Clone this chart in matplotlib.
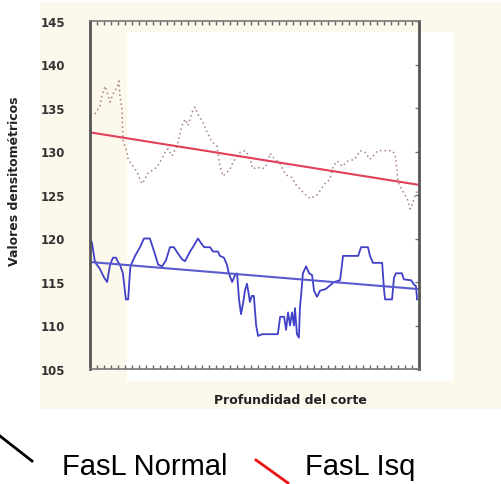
import numpy as np
import matplotlib
matplotlib.use('Agg')
import matplotlib.pyplot as plt
from matplotlib.patches import Rectangle
from matplotlib.lines import Line2D

# FasL Normal (blue solid)
normal_x = [0, 0.6, 1.5, 3.0, 4.3, 5.2, 6.1, 7.0, 7.9, 8.5, 9.1, 10.0, 10.9, 11.6, 12.2, 12.5,
            13.7, 15.2, 16.4, 18.2, 19.5, 20.7, 21.9, 23.1, 24.3, 25.5, 26.7, 28.0, 28.9, 30.4,
            31.6, 32.8, 33.7, 34.7, 36.5, 37.4, 38.9, 39.5, 40.7, 41.6, 42.2, 43.2, 44.1, 44.7,
            45.3, 45.9, 46.5, 47.1, 47.7, 48.3, 48.6, 49.2, 49.8, 50.5, 51.1, 52.3, 54.7, 57.1,
            57.8, 59.0, 59.6, 60.2, 60.8, 61.4, 62.0, 62.3, 62.9, 63.5, 63.8, 64.4, 64.7, 65.7,
            66.6, 67.5, 68.1, 69.0, 69.9, 71.7, 72.9, 74.2, 76.0, 76.6, 76.9, 79.0, 81.5, 82.4,
            84.5, 85.1, 86.0, 88.8, 89.4, 89.7, 91.8, 92.4, 93.0, 94.8, 95.4, 97.6, 98.5, 99.1, 99.4]
normal_y = [120, 119.5, 117.3, 116.5, 115.5, 115, 117, 117.8, 117.8, 117.3, 117, 116, 113, 113, 116.5, 117,
            118, 119, 120, 120, 118.5, 117, 116.8, 117.5, 119, 119, 118.3, 117.6, 117.4, 118.5,
            119.2, 120, 119.5, 119, 119, 118.5, 118.5, 118, 117.8, 117, 116, 115, 115.8, 116,
            113, 111.3, 112.5, 114, 114.8, 113.5, 112.7, 113.4, 113.4, 110, 108.8, 109, 109, 109,
            111, 111, 109.5, 111.5, 110, 111.5, 110, 112, 109, 108.6, 112, 114.5, 116, 116.8,
            116, 115.8, 114, 113.3, 114, 114.2, 114.6, 115, 115.2, 117, 118, 118, 118, 119,
            119, 118, 117.2, 117.2, 114, 113, 113, 115.5, 116, 116, 115.3, 115.2, 114.7, 114.5, 113]

# FasL Isq (red dotted)
isq_x = [1.5, 3.0, 3.6, 4.6, 5.2, 6.1, 7.0, 8.2, 8.8, 9.1, 9.7, 9.9, 10.0, 10.6, 11.2, 11.6,
         13.1, 14.3, 15.2, 15.8, 16.7, 17.3, 18.8, 20.4, 21.3, 22.8, 23.7, 24.9, 26.4, 28.0,
         28.9, 29.8, 31.0, 31.9, 32.8, 34.3, 35.6, 37.1, 38.6, 39.5, 40.4, 41.6, 42.6, 43.5,
         45.6, 47.1, 48.6, 49.5, 50.8, 52.3, 53.5, 54.1, 54.7, 56.2, 57.8, 58.8, 59.6, 61.4,
         62.3, 63.8, 65.3, 66.9, 69.0, 70.5, 71.4, 72.9, 73.9, 75.2, 76.6, 78.4, 80.5, 82.1,
         83.6, 85.1, 86.6, 87.5, 89.7, 91.8, 92.7, 93.3, 93.6, 95.1, 96.4, 97.3, 98.2, 98.8, 99.4]
isq_y = [134.3, 135.2, 136.4, 137.5, 136.8, 135.7, 136.6, 137.4, 138.1, 136.4, 134.9, 133, 131.4, 130.6, 130, 129.1,
         128.3, 127.6, 126.8, 126.3, 126.8, 127.4, 127.8, 128.2, 128.8, 129.9, 130.3, 129.5, 130.6, 133,
         133.7, 133, 134.5, 135.1, 134.3, 133.4, 132.2, 131.1, 130.6, 128.3, 127.2, 127.6, 128, 128.8,
         129.9, 130.1, 129.3, 128.0, 128.2, 128.0, 128.3, 128.8, 129.8, 129.1, 128.6, 127.8, 127.3, 127.0,
         126.3, 125.7, 125.1, 124.6, 125.0, 125.8, 126.3, 126.8, 128.3, 128.9, 128.3, 128.9, 129.1, 130.1,
         129.9, 129.1, 129.7, 130.1, 130.1, 130.1, 129.7, 128.0, 126.5, 125.4, 124.6, 123.4, 124.2, 124.9, 125.4]

# linear trend endpoints
fit_x = [0, 99.4]
normal_fit = [117.3, 114.2]
isq_fit = [132.2, 126.2]

y_ticks = [105, 110, 115, 120, 125, 130, 135, 140, 145]

fig = plt.figure(figsize=(5.02, 4.85), dpi=100)
fig.patch.set_facecolor('white')

# cream panel and white inner panel behind the plot
fig.patches.append(Rectangle((40 / 502, 1 - 410 / 485), 462 / 502, 407 / 485,
                             transform=fig.transFigure, facecolor='#fdf8ec', edgecolor='none', zorder=-2))
fig.patches.append(Rectangle((127 / 502, 1 - 382 / 485), 327 / 502, 349 / 485,
                             transform=fig.transFigure, facecolor='white', edgecolor='none', zorder=-1))

ax = fig.add_axes([90 / 502, 1 - 370 / 485, 329 / 502, 348 / 485])
ax.set_facecolor('none')
ax.set_zorder(2)

ax.plot(isq_x, isq_y, color='#a88080', linestyle=(0, (1, 2)), linewidth=1.1)
ax.plot(fit_x, isq_fit, color='#e0405a', linewidth=1.5)
ax.plot(normal_x, normal_y, color='#4040c8', linewidth=1.3)
ax.plot(fit_x, normal_fit, color='#5a5ad0', linewidth=1.5)

ax.set_xlim(0, 100)
ax.set_ylim(105, 145)
ax.set_yticks(y_ticks)
ax.set_yticklabels([str(t) for t in y_ticks], fontweight='bold', fontsize=8.5, color='#333333')
ax.set_xticks(np.linspace(0, 100, 48))
ax.set_xticklabels([])
ax.tick_params(axis='x', direction='in', top=True, bottom=True, length=3, width=1, color='#666666')
ax.tick_params(axis='y', direction='in', left=False, right=True, labelleft=True,
               length=3, width=1, color='#777777', pad=18)

for side in ['left', 'right']:
    ax.spines[side].set_linewidth(2)
    ax.spines[side].set_color('#555555')
for side in ['top', 'bottom']:
    ax.spines[side].set_linewidth(1.2)
    ax.spines[side].set_color('#777777')

fig.text(15 / 502, 1 - 181 / 485, 'Valores densitométricos', rotation=90, ha='center', va='center',
         fontsize=9, fontweight='bold', color='#222222')
fig.text(290 / 502, 1 - 401 / 485, 'Profundidad del corte', ha='center', va='center',
         fontsize=9, fontweight='bold', color='#222222')

# legend drawn below the panel
fig.lines.append(Line2D([0 / 502, 32 / 502], [1 - 437 / 485, 1 - 462 / 485],
                        transform=fig.transFigure, color='black', linewidth=2))
fig.text(62 / 502, 1 - 475 / 485, 'FasL Normal', fontsize=21, family='Liberation Sans',
         ha='left', va='baseline')
fig.lines.append(Line2D([256 / 502, 288 / 502], [1 - 461 / 485, 1 - 484 / 485],
                        transform=fig.transFigure, color='#ee1111', linewidth=2))
fig.text(305 / 502, 1 - 475 / 485, 'FasL Isq', fontsize=21, family='Liberation Sans',
         ha='left', va='baseline')

fig.savefig('out.png', dpi=100)
